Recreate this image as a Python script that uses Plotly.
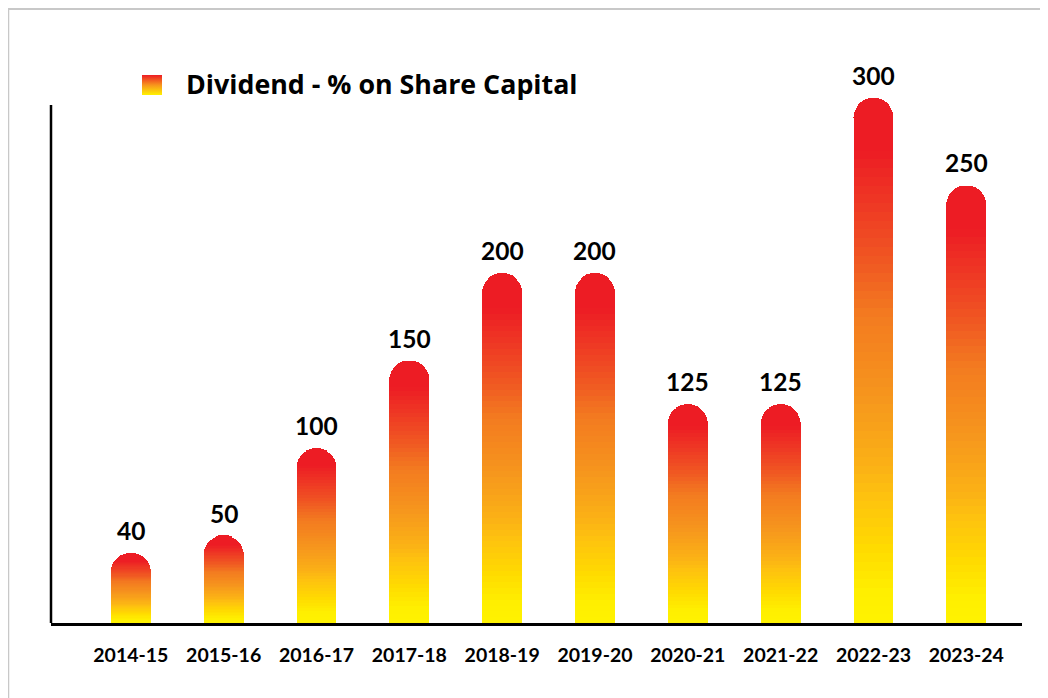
import plotly.graph_objects as go
from plotly.colors import sample_colorscale

# ---- data ----
years = ["2014-15", "2015-16", "2016-17", "2017-18", "2018-19",
         "2019-20", "2020-21", "2021-22", "2022-23", "2023-24"]
dividend_pct = [40, 50, 100, 150, 200, 200, 125, 125, 300, 250]
series_name = "Dividend - % on Share Capital"

# ---- style ----
OFF = 8                      # default page body margin
W, H = 1048 - OFF, 698 - OFF
FONT = "Lato"
TITLE_FONT = "Open Sans"
# gradient: fraction from bottom (0) to top (1)
grad_scale = [
    [0.00, "#FFF200"],
    [0.06, "#FFEF00"],
    [0.14, "#FFDB00"],
    [0.24, "#FEC20F"],
    [0.30, "#FBB116"],
    [0.43, "#F6961D"],
    [0.59, "#F37A20"],
    [0.68, "#F05A22"],
    [0.81, "#EE3524"],
    [0.90, "#ED1C24"],
    [1.00, "#ED1C24"],
]
N_SEG = 60


def px(x):
    return (x - OFF) / W


def py(y):
    return 1 - (y - OFF) / H


x_left, x_right = 51, 1022      # plot area in page px
y_bottom, y_top = 623, 80
px_per_unit = 1.75

fig = go.Figure()
seg_colors = sample_colorscale(grad_scale, [(k + 0.5) / N_SEG for k in range(N_SEG)])
for k in range(N_SEG):
    fig.add_trace(go.Bar(
        x=years,
        y=[v / N_SEG for v in dividend_pct],
        width=0.43,
        marker=dict(color=seg_colors[k], line=dict(width=0)),
        showlegend=False,
        hoverinfo="skip",
    ))

# value labels
for yr, v in zip(years, dividend_pct):
    fig.add_annotation(x=yr, y=v, text=str(v), showarrow=False,
                       xanchor="center", yanchor="bottom", yshift=6,
                       font=dict(family=FONT, size=24.5, color="black", weight="bold"))

y_max = (y_bottom - y_top) / px_per_unit
y_axis_top = (y_bottom - 105) / px_per_unit

# legend (manual)
svg = ("data:image/svg+xml;utf8,<svg xmlns='http://www.w3.org/2000/svg' width='20' height='20'>"
       "<defs><linearGradient id='g' x1='0' y1='0' x2='0' y2='1'>"
       "<stop offset='0' stop-color='%23ED1C24'/><stop offset='0.5' stop-color='%23F7941D'/>"
       "<stop offset='1' stop-color='%23FFF200'/></linearGradient></defs>"
       "<rect width='20' height='20' fill='url(%23g)'/></svg>")
fig.add_layout_image(source=svg, xref="paper", yref="paper",
                     x=px(142), y=py(75), sizex=20 / W, sizey=20 / H,
                     xanchor="left", yanchor="top", sizing="stretch", layer="above")
fig.add_annotation(xref="paper", yref="paper", x=px(184), y=py(83),
                   text=series_name, showarrow=False, xanchor="left", yanchor="middle",
                   font=dict(family=TITLE_FONT, size=26.8, color="black", weight="bold"))

# y axis line
fig.add_shape(type="line", xref="paper", yref="y", x0=px(x_left), x1=px(x_left),
              y0=0, y1=y_axis_top, line=dict(color="black", width=2.5))
# outer gray border
fig.add_shape(type="rect", xref="paper", yref="paper",
              x0=px(8), x1=1.2, y0=-0.2, y1=py(8.8),
              line=dict(color="#C8C8C8", width=2.5), layer="below")

fig.update_layout(
    width=W, height=H,
    margin=dict(l=0, r=0, t=0, b=0),
    paper_bgcolor="white", plot_bgcolor="white",
    barmode="stack",
    barcornerradius="50%",
    xaxis=dict(domain=[px(x_left), px(x_right)], range=[-0.86, 9.6],
               showline=True, linecolor="black", linewidth=3,
               showgrid=False, zeroline=False, ticks="", ticklabelstandoff=13,
               tickfont=dict(family=FONT, size=19.5, color="black", weight="bold")),
    yaxis=dict(domain=[py(y_bottom), py(y_top)], range=[0, y_max],
               showline=False, showgrid=False, zeroline=False, showticklabels=False),
)

fig.write_html("out.html")
